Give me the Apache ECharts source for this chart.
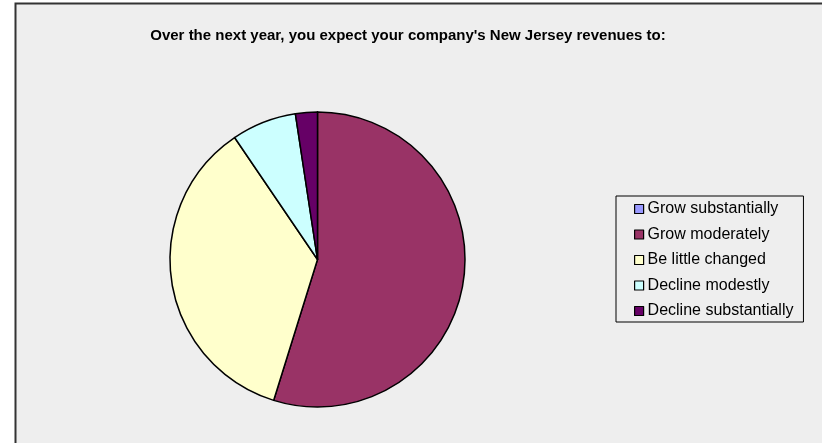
<!DOCTYPE html>
<html>
<head>
<meta charset="utf-8">
<script src="https://cdn.jsdelivr.net/npm/echarts@6/dist/echarts.min.js"></script>
<style>
  html, body { margin: 0; padding: 0; background: #ffffff; }
  #chart { width: 822px; height: 443px; }
</style>
</head>
<body>
<div id="chart"></div>
<script>
// Survey responses (share of respondents, %)
const categories = [
  'Grow substantially',
  'Grow moderately',
  'Be little changed',
  'Decline modestly',
  'Decline substantially'
];
const shares = [0, 54.8, 35.7, 7.1, 2.4];
const sliceColors = ['#9999ff', '#993366', '#ffffcc', '#ccffff', '#660066'];
const titleText = "Over the next year, you expect your company's New Jersey revenues to:";

const chart = echarts.init(document.getElementById('chart'), null, { renderer: 'canvas' });

const fontFamily = '"Liberation Sans", Arial, Helvetica, sans-serif';

chart.setOption({
  animation: false,
  graphic: [{
    type: 'rect',
    z: -10,
    silent: true,
    shape: { x: 15.5, y: 3.5, width: 900, height: 500 },
    style: { fill: '#eeeeee', stroke: '#333333', lineWidth: 2 }
  }],
  title: {
    text: titleText,
    left: 403,
    textAlign: 'center',
    top: 23,
    textStyle: { fontFamily, fontSize: 15, fontWeight: 'bold', color: '#000000' }
  },
  legend: {
    orient: 'vertical',
    left: 616,
    top: 196,
    data: categories,
    icon: 'rect',
    itemWidth: 9,
    itemHeight: 9,
    itemGap: 9.5,
    padding: [5, 10, 3, 18],
    borderColor: '#000000',
    borderWidth: 1,
    backgroundColor: '#eeeeee',
    selectedMode: false,
    itemStyle: { borderColor: '#000000', borderWidth: 1.2 },
    textStyle: { fontFamily, fontSize: 16, color: '#000000', padding: [0, 0, 0, -1] }
  },
  series: [{
    type: 'pie',
    center: [317.5, 259.5],
    radius: 147.5,
    startAngle: 90,
    clockwise: true,
    silent: true,
    label: { show: false },
    labelLine: { show: false },
    itemStyle: { borderColor: '#000000', borderWidth: 1.5 },
    data: categories.map((name, i) => ({
      name,
      value: shares[i],
      itemStyle: { color: sliceColors[i] }
    }))
  }]
});
</script>
</body>
</html>
